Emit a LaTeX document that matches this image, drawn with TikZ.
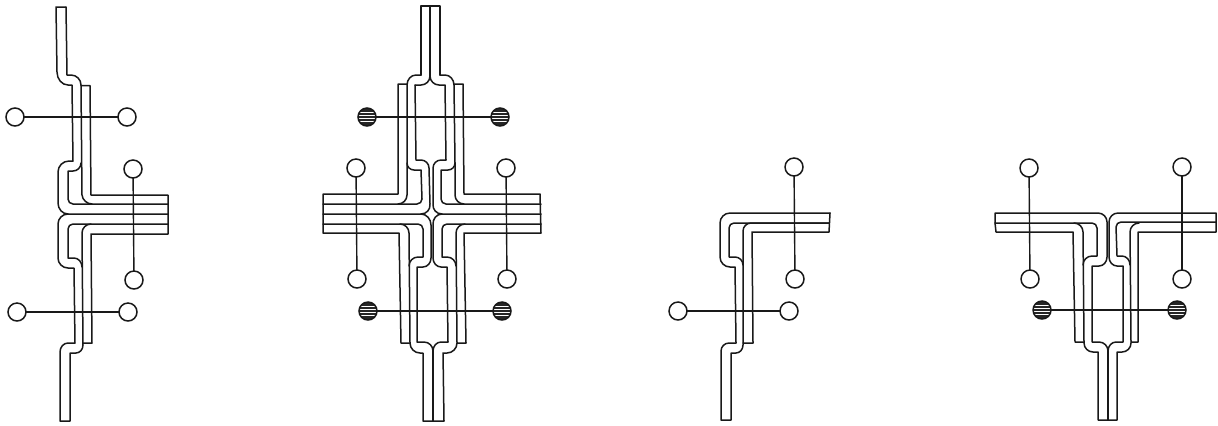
\documentclass[tikz,border=0pt]{standalone}
\usetikzlibrary{calc}
\newcommand\Qc[3]{-- (#1) .. controls ($(#1)!0.55!(#2)$) and ($(#3)!0.55!(#2)$) .. (#3)}
\tikzset{
  strip/.style={line width=0.75pt,line join=round,line cap=round,black!90},
  wire/.style={line width=0.7pt,black!90},
  opencirc/.style={circle,draw=black!90,line width=0.75pt,fill=white,minimum size=9pt,inner sep=0pt,outer sep=0pt},
  hatchcirc/.style={opencirc,fill=black!85,path picture={
    \foreach \d in {-2.4,-0.8,0.8,2.4}{
      \draw[white,line width=0.5pt] ([yshift=\d pt]path picture bounding box.west) -- ([yshift=\d pt]path picture bounding box.east);}
  }}
}
\begin{document}
\begin{tikzpicture}[x=0.5pt,y=-0.5pt]
\useasboundingbox (0,0) rectangle (1218,425);
% ---------- Diagram 1 ----------
\begin{scope}[strip]
\draw (66,7) -- (56,7) \Qc{57,72}{57,85}{68,85} -- (72,85) -- (73,161) -- (69,161) \Qc{69,161}{58,161}{58,172} -- (58,203) \Qc{58,203}{58,214}{68,214} -- (168,214);
\draw (66,7) -- (67,75) -- (71,75) \Qc{71,75}{81,75}{81,85} -- (82,195) \Qc{82,195}{83,204}{92,204} -- (168,204);
\draw (81,163) \Qc{81,163}{81,171}{73,171} -- (68,171) -- (68,199) \Qc{68,199}{68,204}{73,204} -- (92,204);
\draw (81,85.5) -- (90,85.5) -- (91,195) -- (168,195) -- (168,234) -- (91,234) -- (92,343) -- (83,343);
\draw (68,214) \Qc{68,214}{58,214}{58,224} -- (58,258) \Qc{58,258}{58,268}{68,268} -- (74,268) -- (75,343) -- (68,343) \Qc{68,343}{60,343}{60,352} -- (60,421) -- (70,421) -- (70,353) -- (76,353) \Qc{76,353}{83,353}{83,345} -- (82,233) \Qc{82,233}{82,224}{91,224};
\draw (168,224) -- (73,224) \Qc{73,224}{68,224}{68,229} -- (68,258) -- (74,258) \Qc{74,258}{82,258}{82,267};
\end{scope}
\node[opencirc] (a1) at (15,117) {};
\node[opencirc] (a2) at (127,117) {};
\node[opencirc] (a3) at (133,169) {};
\node[opencirc] (a4) at (134,280) {};
\node[opencirc] (a5) at (17,312) {};
\node[opencirc] (a6) at (128,312) {};
\draw[wire] (a1) -- (a2);
\draw[wire] (a3) -- (a4);
\draw[wire] (a5) -- (a6);
% ---------- Diagram 2 ----------
\begin{scope}[strip]
\draw (430,76) -- (430,6);
\draw (421,75) -- (421,6) -- (440,6) -- (440,75);
\draw (421,75) -- (416,75) \Qc{416,75}{407,75}{407,85} -- (407,163) \Qc{407,163}{407,170}{414,170} -- (421,170) -- (422,199) \Qc{422,199}{422,204}{417,204} -- (323,204);
\draw (407,163) -- (407,195) \Qc{407,195}{407,204}{398,204};
\draw (407,84) -- (398,84) -- (398,194) -- (323,194) -- (323,233) -- (399,233) -- (401,343) -- (410,343);
\draw (415,85) -- (421,85) \Qc{421,85}{430,85}{430,76} \Qc{430,76}{430,85}{439,85} -- (445,85) -- (446,160) -- (441,160) \Qc{441,160}{433,160}{433,168} -- (433,204) \Qc{433,204}{432,214}{442,214} -- (541,214);
\draw (415,85) -- (416,160) -- (421,160) \Qc{421,160}{429,160}{429,168} -- (430,204) \Qc{430,204}{431,214}{421,214} -- (323,214);
\draw (440,75) -- (445,75) \Qc{445,75}{454,75}{454,85} -- (455,163) \Qc{455,163}{455,170}{448,170} -- (441,170) -- (441,199) \Qc{441,199}{441,204}{446,204} -- (541,204);
\draw (455,163) -- (455,195) \Qc{455,195}{455,204}{464,204};
\draw (454,84) -- (463,84) -- (464,194) -- (540,194) -- (541,233) -- (464,233) -- (466,343) -- (457,343);
% lower
\draw (421,214) \Qc{421,214}{431,214}{431,225} -- (431,258) \Qc{431,258}{431,267}{423,267} -- (417,267) -- (417,342) -- (424,342) \Qc{424,342}{433,342}{433,351} \Qc{433,351}{433,342}{441,342} -- (448,342) -- (447,267) -- (441,267) \Qc{441,267}{433,267}{433,258} -- (433,225) \Qc{433,225}{432,214}{442,214};
\draw (433,351) -- (433,421);
\draw (323,224) -- (418,224) \Qc{418,224}{423,224}{423,229} -- (423,257) -- (418,257) \Qc{418,257}{409,257}{409,266};
\draw (400,224) \Qc{400,224}{409,224}{409,233} -- (410,343) \Qc{410,343}{410,353}{420,353} -- (423,353) -- (423,421) -- (444,421) -- (443,353) -- (447,353) \Qc{447,353}{457,353}{457,343} -- (456,233) \Qc{456,233}{456,224}{465,224};
\draw (541,224) -- (447,224) \Qc{447,224}{442,224}{442,229} -- (442,257) -- (447,257) \Qc{447,257}{456,257}{456,266};
\end{scope}
\node[hatchcirc] (b1) at (367,117) {};
\node[hatchcirc] (b2) at (500,117) {};
\node[opencirc] (b3) at (356,168) {};
\node[opencirc] (b4) at (357,279) {};
\node[opencirc] (b5) at (506,168) {};
\node[opencirc] (b6) at (507,279) {};
\node[hatchcirc] (b7) at (368,311) {};
\node[hatchcirc] (b8) at (502,311) {};
\draw[wire] (b1) -- (b2);
\draw[wire] (b3) -- (b4);
\draw[wire] (b5) -- (b6);
\draw[wire] (b7) -- (b8);
% ---------- Diagram 3 ----------
\begin{scope}[strip]
\draw (830,213) -- (730,213) \Qc{730,213}{720,213}{720,223} -- (720,257) \Qc{720,257}{720,267}{730,267} -- (735,267) -- (736,343) -- (729,343) \Qc{729,343}{721,343}{721,351} -- (721,420) -- (731,420) -- (731,353) -- (736,353) \Qc{736,353}{743,353}{743,345} -- (743,231) \Qc{743,231}{743,223}{751,223} -- (829,223);
\draw (829,223) -- (734,223) \Qc{734,223}{729,223}{729,228} -- (729,257) -- (735,257) \Qc{735,257}{743,257}{743,265};
\draw (830,213) -- (829,232) -- (752,232) -- (753,343) -- (743,343);
\end{scope}
\node[opencirc] (c1) at (794,167) {};
\node[opencirc] (c2) at (795,279) {};
\node[opencirc] (c3) at (678,311) {};
\node[opencirc] (c4) at (789,311) {};
\draw[wire] (c1) -- (c2);
\draw[wire] (c3) -- (c4);
% ---------- Diagram 4 ----------
\begin{scope}[strip]
\draw (995,223) -- (995,213) -- (1098,213) \Qc{1098,213}{1107,213}{1107,222} -- (1107,257) \Qc{1107,257}{1107,266}{1099,266} -- (1092,266) -- (1092,342) -- (1099,342) \Qc{1099,342}{1108,342}{1108,351} \Qc{1108,351}{1108,342}{1116,342} -- (1123,342) -- (1123,266) -- (1117,266) \Qc{1117,266}{1109,266}{1109,257} -- (1109,222) \Qc{1109,222}{1109,213}{1118,213} -- (1216,213) -- (1216,232) -- (1138,232) -- (1138,342) -- (1131,342);
\draw (1108,351) -- (1108,420);
\draw (995,223) -- (1092,223) \Qc{1092,223}{1097,223}{1097,228} -- (1097,256) -- (1092,256) \Qc{1092,256}{1083,256}{1083,265};
\draw (1074,223) \Qc{1074,223}{1083,223}{1083,232} -- (1084,343) \Qc{1084,343}{1084,352}{1093,352} -- (1098,352) -- (1098,420) -- (1117,420) -- (1117,352) -- (1122,352) \Qc{1122,352}{1131,352}{1131,343} -- (1130,232) \Qc{1130,232}{1130,223}{1139,223};
\draw (995,223) -- (996,232) -- (1073,232) -- (1075,342) -- (1084,342);
\draw (1216,222) -- (1121,222) \Qc{1121,222}{1116,222}{1116,227} -- (1117,256) -- (1122,256) \Qc{1122,256}{1130,256}{1130,265};
\end{scope}
\node[opencirc] (d1) at (1029,168) {};
\node[opencirc] (d2) at (1030,279) {};
\node[opencirc] (d3) at (1182,167) {};
\node[opencirc] (d4) at (1182,279) {};
\node[hatchcirc] (d5) at (1042,310) {};
\node[hatchcirc] (d6) at (1177,310) {};
\draw[wire] (d1) -- (d2);
\draw[wire] (d3) -- (d4);
\draw[wire] (d5) -- (d6);
\end{tikzpicture}
\end{document}
